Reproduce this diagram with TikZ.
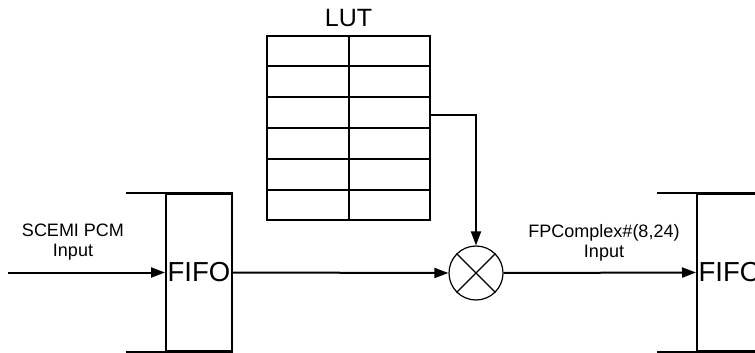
\documentclass[tikz,border=0pt]{standalone}
\usepackage{fontspec}
\setmainfont{Liberation Sans}
\usetikzlibrary{arrows.meta,calc}
\begin{document}
\begin{tikzpicture}[x=1pt,y=-1pt,
  wire/.style={line width=2pt},
  arr/.style={wire,-{Triangle[length=14pt,width=10pt]}},
  fifobox/.style={draw,line width=2pt,minimum width=66pt,minimum height=157pt,inner sep=0pt,font=\fontsize{27.5}{30}\selectfont},
  lbl/.style={align=center,font=\fontsize{18}{20}\selectfont},
  mult/.style={draw,circle,line width=1.2pt,minimum size=54pt,inner sep=0pt}]
\useasboundingbox (0,0) rectangle (755,353);
\clip (0,0) rectangle (755,353);
% left FIFO
\node[fifobox] (fifoA) at (199,272.5) {FIFO};
\draw[wire] ([xshift=-39pt]fifoA.north west) -- (fifoA.north east);
\draw[wire] ([xshift=-39pt]fifoA.south west) -- (fifoA.south east);
% right FIFO
\node[fifobox] (fifoB) at (730,272.5) {FIFO};
\draw[wire] ([xshift=-39pt]fifoB.north west) -- (fifoB.north east);
\draw[wire] ([xshift=-39pt]fifoB.south west) -- (fifoB.south east);
% multiplier
\node[mult] (mul) at (476,273) {};
\draw[line width=1.2pt] (mul.north west) -- (mul.south east);
\draw[line width=1.2pt] (mul.north east) -- (mul.south west);
% LUT
\node[draw,line width=2pt,minimum width=163pt,minimum height=184pt,inner sep=0pt] (lut) at (348.5,128) {};
\foreach \k in {1,...,5}{
  \draw[wire] ($(lut.north west)!\k/6!(lut.south west)$) -- ($(lut.north east)!\k/6!(lut.south east)$);
}
\draw[wire] (lut.north) -- (lut.south);
\node[font=\fontsize{25}{28}\selectfont,inner sep=0pt] (lutlbl) at ([yshift=17pt]lut.north) {LUT};
% input
\coordinate (in) at (8,272.5);
\draw[arr] (in) -- (fifoA.west);
\node[lbl] (inlbl) at (73,242) {SCEMI PCM\\Input};
% connections
\draw[arr] (fifoA.east) -- (mul.west);
\draw[arr] (mul.east) -- (fifoB.west);
\node[lbl] (outlbl) at (604,243) {FPComplex\#(8,24)\\Input};
\coordinate (tap) at ([yshift=13pt]lut.east);
\draw[arr] (tap) -| (mul.north);
\end{tikzpicture}
\end{document}
